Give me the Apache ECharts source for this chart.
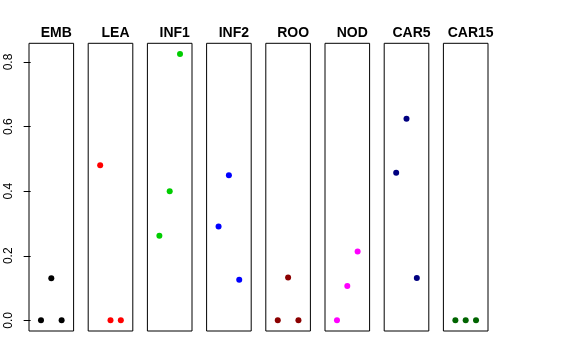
<!DOCTYPE html>
<html>
<head>
<meta charset="utf-8">
<script src="https://cdn.jsdelivr.net/npm/echarts@6/dist/echarts.min.js"></script>
<style>html,body{margin:0;padding:0;background:#fff}#c{width:576px;height:360px}</style>
</head>
<body>
<div id="c"></div>
<script>
// Data
const panelNames = ['EMB', 'LEA', 'INF1', 'INF2', 'ROO', 'NOD', 'CAR5', 'CAR15'];
const panelColors = ['#000000', '#FF0000', '#00CD00', '#0000FF', '#8B0000', '#FF00FF', '#000080', '#006400'];
const xPositions = [1, 2, 3];
const EMB = [0, 0.130, 0];
const LEA = [0.480, 0, 0];
const INF1 = [0.262, 0.400, 0.825];
const INF2 = [0.291, 0.449, 0.126];
const ROO = [0, 0.133, 0];
const NOD = [0, 0.106, 0.213];
const CAR5 = [0.457, 0.624, 0.131];
const CAR15 = [0, 0, 0];
const yTicks = [0, 0.2, 0.4, 0.6, 0.8];
const panelValues = [EMB, LEA, INF1, INF2, ROO, NOD, CAR5, CAR15];

// Layout
const gLeft0 = 29, gStep = 59.2, gW = 44.6, gTop = 43.3, gH = 287.7;
const yMin = -0.033, yMax = 0.858, xMin = -0.16, xMax = 4.16;
const fontFam = 'Liberation Sans, Arial, Helvetica, sans-serif';

const grids = [], xAxes = [], yAxes = [], seriesList = [], titles = [];
panelNames.forEach((name, i) => {
  const l = gLeft0 + i * gStep;
  grids.push({left: l, top: gTop, width: gW, height: gH, show: true, borderColor: '#000', borderWidth: 1, backgroundColor: 'transparent'});
  xAxes.push({gridIndex: i, type: 'value', min: xMin, max: xMax, show: false});
  yAxes.push({
    gridIndex: i, type: 'value', min: yMin, max: yMax,
    splitLine: {show: false},
    axisLine: {show: false},
    axisTick: {show: i === 0, length: 7, lineStyle: {color: '#000'}, customValues: yTicks},
    axisLabel: {show: i === 0, rotate: 90, margin: 14, fontSize: 12, color: '#000', fontFamily: fontFam,
                customValues: yTicks, formatter: v => v.toFixed(1)}
  });
  titles.push({
    text: name, left: l + gW / 2, top: 21, textAlign: 'center',
    textStyle: {fontSize: 14, fontWeight: 'bold', color: '#000', fontFamily: fontFam}
  });
  seriesList.push({
    type: 'scatter', xAxisIndex: i, yAxisIndex: i, symbolSize: 6,
    itemStyle: {color: panelColors[i], opacity: 1}, clip: false, silent: true,
    data: xPositions.map((x, k) => [x, panelValues[i][k]])
  });
});

const chart = echarts.init(document.getElementById('c'), null, {renderer: 'canvas'});
chart.setOption({animation: false, backgroundColor: '#fff', title: titles, grid: grids, xAxis: xAxes, yAxis: yAxes, series: seriesList});
</script>
</body>
</html>
